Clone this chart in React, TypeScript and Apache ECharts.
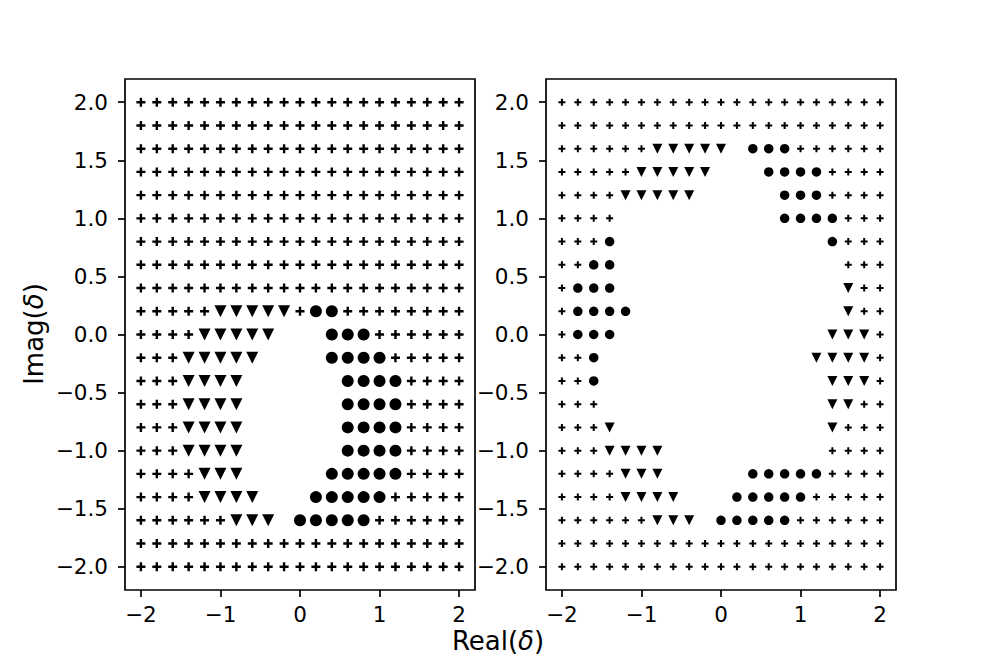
import React, { useEffect, useRef } from 'react';
import * as echarts from 'echarts';

// grid coordinates (columns = real part, rows = imaginary part, top row first)
const GRID_X = [-2.0, -1.8, -1.6, -1.4, -1.2, -1.0, -0.8, -0.6, -0.4, -0.2, 0.0, 0.2, 0.4, 0.6, 0.8, 1.0, 1.2, 1.4, 1.6, 1.8, 2.0];
const GRID_Y = [2.0, 1.8, 1.6, 1.4, 1.2, 1.0, 0.8, 0.6, 0.4, 0.2, 0.0, -0.2, -0.4, -0.6, -0.8, -1.0, -1.2, -1.4, -1.6, -1.8, -2.0];

// '+' plus marker, 'v' triangle-down, 'o' circle, '.' nothing
const LEFT_PATTERN = [
  '+++++++++++++++++++++', // 2.0
  '+++++++++++++++++++++', // 1.8
  '+++++++++++++++++++++', // 1.6
  '+++++++++++++++++++++', // 1.4
  '+++++++++++++++++++++', // 1.2
  '+++++++++++++++++++++', // 1.0
  '+++++++++++++++++++++', // 0.8
  '+++++++++++++++++++++', // 0.6
  '+++++++++++++++++++++', // 0.4
  '+++++vvvvv+oo++++++++', // 0.2
  '++++vvvvv...ooo++++++', // 0.0
  '+++vvvvv....oooo+++++', // -0.2
  '+++vvvv......oooo++++', // -0.4
  '+++vvvv......oooo++++', // -0.6
  '+++vvvv......oooo++++', // -0.8
  '+++vvvv......oooo++++', // -1.0
  '++++vvv.....ooooo++++', // -1.2
  '++++vvvv...ooooo+++++', // -1.4
  '++++++vvv.ooooo++++++', // -1.6
  '+++++++++++++++++++++', // -1.8
  '+++++++++++++++++++++', // -2.0
];

const RIGHT_PATTERN = [
  '+++++++++++++++++++++', // 2.0
  '+++++++++++++++++++++', // 1.8
  '++++++vvvvv.ooo++++++', // 1.6
  '+++++vvvvv...oooo++++', // 1.4
  '++++vvvvv.....ooo++++', // 1.2
  '++++..........oooo+++', // 1.0
  '+++o.............o+++', // 0.8
  '++oo..............+++', // 0.6
  '+ooo..............v++', // 0.4
  '+oooo.............v++', // 0.2
  '+ooo.............vvv+', // 0.0
  '++o.............vvvv+', // -0.2
  '++o..............vvv+', // -0.4
  '+++..............vv++', // -0.6
  '+++v.............v+++', // -0.8
  '+++vvvv..........++++', // -1.0
  '++++vvv.....ooooo++++', // -1.2
  '++++vvvv...ooooo+++++', // -1.4
  '++++++vvv.ooooo++++++', // -1.6
  '+++++++++++++++++++++', // -1.8
  '+++++++++++++++++++++', // -2.0
];

const X_TICKS = [-2, -1, 0, 1, 2];
const Y_TICKS = [-2.0, -1.5, -1.0, -0.5, 0.0, 0.5, 1.0, 1.5, 2.0];

const FONT = 'DejaVu Sans';
const PLUS_LEFT = 'path://M4.4,0L7.6,0L7.6,4.4L12,4.4L12,7.6L7.6,7.6L7.6,12L4.4,12L4.4,7.6L0,7.6L0,4.4L4.4,4.4Z';
const PLUS_RIGHT = 'path://M2.5,0L4.5,0L4.5,2.5L7,2.5L7,4.5L4.5,4.5L4.5,7L2.5,7L2.5,4.5L0,4.5L0,2.5L2.5,2.5Z';
const TRI_DOWN = 'path://M0,0L10,0L5,10Z';

function points(pattern: string[], ch: string): number[][] {
  const out: number[][] = [];
  pattern.forEach((row, r) => {
    for (let c = 0; c < row.length; c++) {
      if (row[c] === ch) out.push([GRID_X[c], GRID_Y[r]]);
    }
  });
  return out;
}

function fmt(v: number, dec: number): string {
  const s = Math.abs(v).toFixed(dec);
  return (v < -1e-9 ? '\u2212' : '') + s;
}

export default function App() {
  const ref = useRef<HTMLDivElement>(null);

  useEffect(() => {
    if (!ref.current) return;
    const chart = echarts.init(ref.current, undefined, { renderer: 'svg' });

    const grids = [
      { left: 125, top: 79, width: 350, height: 511, show: true, borderColor: '#000', borderWidth: 1.7, backgroundColor: 'transparent' },
      { left: 546, top: 79, width: 350, height: 511, show: true, borderColor: '#000', borderWidth: 1.7, backgroundColor: 'transparent' },
    ];

    const mkX = (gi: number) => ({
      type: 'value',
      gridIndex: gi,
      min: -2.2,
      max: 2.2,
      splitLine: { show: false },
      axisLine: { show: false, onZero: false },
      axisTick: { show: true, inside: false, length: 7, lineStyle: { color: '#000', width: 1.7 }, customValues: X_TICKS },
      axisLabel: { customValues: X_TICKS, formatter: (v: number) => fmt(v, 0), color: '#000', fontSize: 21.5, fontFamily: FONT, margin: 13 },
    });
    const mkY = (gi: number) => ({
      type: 'value',
      gridIndex: gi,
      min: -2.2,
      max: 2.2,
      splitLine: { show: false },
      axisLine: { show: false, onZero: false },
      axisTick: { show: true, inside: false, length: 7, lineStyle: { color: '#000', width: 1.7 }, customValues: Y_TICKS },
      axisLabel: { customValues: Y_TICKS, formatter: (v: number) => fmt(v, 1), color: '#000', fontSize: 21.5, fontFamily: FONT, margin: 17 },
    });

    const style = { color: '#000', opacity: 1 };
    const mkSeries = (gi: number, pattern: string[], plus: string, plusSize: number, triSize: number, dotSize: number) => [
      { type: 'scatter', xAxisIndex: gi, yAxisIndex: gi, data: points(pattern, '+'), symbol: plus, symbolSize: plusSize, itemStyle: style, silent: true },
      { type: 'scatter', xAxisIndex: gi, yAxisIndex: gi, data: points(pattern, 'v'), symbol: TRI_DOWN, symbolSize: triSize, itemStyle: style, silent: true },
      { type: 'scatter', xAxisIndex: gi, yAxisIndex: gi, data: points(pattern, 'o'), symbol: 'circle', symbolSize: dotSize, itemStyle: style, silent: true },
    ];

    chart.setOption({
      animation: false,
      backgroundColor: '#fff',
      grid: grids,
      xAxis: [mkX(0), mkX(1)],
      yAxis: [mkY(0), mkY(1)],
      series: [
        ...mkSeries(0, LEFT_PATTERN, PLUS_LEFT, 9, 12, 12),
        ...mkSeries(1, RIGHT_PATTERN, PLUS_RIGHT, 7, 10, 9.5),
      ],
      graphic: [
        {
          type: 'text',
          x: 498,
          y: 641,
          style: {
            text: 'Real({i|δ})',
            fontSize: 26,
            fontFamily: FONT,
            fill: '#000',
            align: 'center',
            verticalAlign: 'middle',
            rich: { i: { fontStyle: 'italic', fontSize: 26, fontFamily: FONT, fill: '#000' } },
          },
        },
        {
          type: 'text',
          x: 34,
          y: 334,
          rotation: Math.PI / 2,
          style: {
            text: 'Imag({i|δ})',
            fontSize: 26,
            fontFamily: FONT,
            fill: '#000',
            align: 'center',
            verticalAlign: 'middle',
            rich: { i: { fontStyle: 'italic', fontSize: 26, fontFamily: FONT, fill: '#000' } },
          },
        },
      ],
    });

    return () => chart.dispose();
  }, []);

  return (
    <div
      ref={ref}
      style={{ position: 'fixed', left: 0, top: 0, width: 997, height: 664, background: '#fff' }}
    />
  );
}
